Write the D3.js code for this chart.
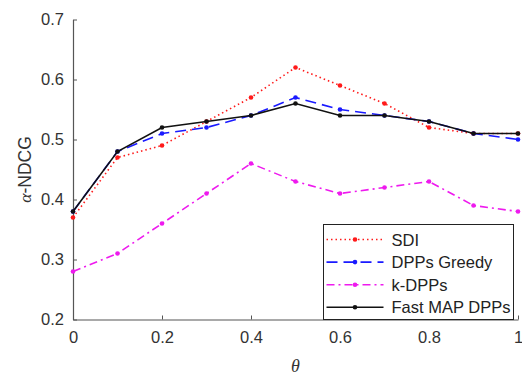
<!DOCTYPE html>
<html>
<head>
<meta charset="utf-8">
<script src="https://cdn.jsdelivr.net/npm/d3@7"></script>
<style>
  html, body { margin: 0; padding: 0; background: #fff; }
  svg { display: block; font-family: "Liberation Sans", Arial, sans-serif; }
</style>
</head>
<body>
<svg id="chart" width="522" height="375"></svg>
<script>
// θ values along the x axis
const theta = [0, 0.1, 0.2, 0.3, 0.4, 0.5, 0.6, 0.7, 0.8, 0.9, 1.0];

// α-NDCG for each method
const sdi        = [0.37, 0.47, 0.49, 0.53, 0.57, 0.62, 0.59, 0.56, 0.52, 0.51, 0.51];
const dppsGreedy = [0.38, 0.48, 0.51, 0.52, 0.54, 0.57, 0.55, 0.54, 0.53, 0.51, 0.50];
const kDpps      = [0.28, 0.31, 0.36, 0.41, 0.46, 0.43, 0.41, 0.42, 0.43, 0.39, 0.38];
const fastMap    = [0.38, 0.48, 0.52, 0.53, 0.54, 0.56, 0.54, 0.54, 0.53, 0.51, 0.51];

const seriesNames = ["SDI", "DPPs Greedy", "k-DPPs", "Fast MAP DPPs"];

const xTicks = [0, 0.2, 0.4, 0.6, 0.8, 1];
const yTicks = [0.2, 0.3, 0.4, 0.5, 0.6, 0.7];

const series = [
  { name: seriesNames[0], values: sdi,        color: "#ff1a1a", dash: "1.5,3" },
  { name: seriesNames[1], values: dppsGreedy, color: "#1a1aff", dash: "11,6" },
  { name: seriesNames[2], values: kDpps,      color: "#ee1aee", dash: "8,4,2,4" },
  { name: seriesNames[3], values: fastMap,    color: "#111111", dash: null }
];

const svg = d3.select("#chart");
const margin = { left: 73, right: 4, top: 19.5, bottom: 55.5 };
const W = 522, H = 375;

const x = d3.scaleLinear().domain([0, 1]).range([margin.left, W - margin.right]);
const y = d3.scaleLinear().domain([0.2, 0.7]).range([H - margin.bottom, margin.top]);

const axisColor = "#555";
const textColor = "#333";
const tickFont = 16.5;

// Bottom axis with inward ticks
const xAxis = svg.append("g")
  .attr("transform", `translate(0,${y(0.2)})`)
  .call(d3.axisBottom(x).tickValues(xTicks).tickFormat(d3.format("~g")).tickSizeInner(-4).tickSizeOuter(0).tickPadding(12));
xAxis.select(".domain").attr("stroke", axisColor).attr("stroke-width", 1.2);
xAxis.selectAll(".tick line").attr("stroke", axisColor);
xAxis.selectAll(".tick text").attr("fill", textColor).attr("font-size", tickFont);

// Left axis with inward ticks
const yAxis = svg.append("g")
  .attr("transform", `translate(${x(0)},0)`)
  .call(d3.axisLeft(y).tickValues(yTicks).tickFormat(d3.format(".1f")).tickSizeInner(-4).tickSizeOuter(0).tickPadding(9));
yAxis.select(".domain").attr("stroke", axisColor).attr("stroke-width", 1.2);
yAxis.selectAll(".tick line").attr("stroke", axisColor);
yAxis.selectAll(".tick text").attr("fill", textColor).attr("font-size", tickFont);

// Axis titles
svg.append("text")
  .attr("x", x(0.5)).attr("y", 372)
  .attr("text-anchor", "middle")
  .attr("font-family", "'Liberation Serif', serif")
  .attr("font-style", "italic")
  .attr("font-size", 18)
  .attr("fill", textColor)
  .text("θ");

const yLabel = svg.append("text")
  .attr("transform", `translate(31,${y(0.45)}) rotate(-90)`)
  .attr("text-anchor", "middle")
  .attr("font-size", 17.5)
  .attr("fill", textColor);
yLabel.append("tspan")
  .attr("font-family", "'Liberation Serif', serif")
  .attr("font-style", "italic")
  .text("α");
yLabel.append("tspan").text("-NDCG");

// Lines and markers
const line = d3.line()
  .x((d, i) => x(theta[i]))
  .y(d => y(d));

series.forEach(s => {
  svg.append("path")
    .datum(s.values)
    .attr("fill", "none")
    .attr("stroke", s.color)
    .attr("stroke-width", 1.6)
    .attr("stroke-dasharray", s.dash)
    .attr("d", line);
  svg.append("g").selectAll("circle")
    .data(s.values)
    .join("circle")
    .attr("cx", (d, i) => x(theta[i]))
    .attr("cy", d => y(d))
    .attr("r", 2.3)
    .attr("fill", s.color);
});

// Legend
const lg = svg.append("g");
const lx = 323.5, ly = 224.5, lw = 190, lh = 95;
lg.append("rect")
  .attr("x", lx).attr("y", ly).attr("width", lw).attr("height", lh)
  .attr("fill", "#fff").attr("stroke", "#222").attr("stroke-width", 1);

series.forEach((s, i) => {
  const ry = ly + 15 + i * 22.6;
  lg.append("line")
    .attr("x1", lx + 3).attr("x2", lx + 60)
    .attr("y1", ry).attr("y2", ry)
    .attr("stroke", s.color)
    .attr("stroke-width", 1.6)
    .attr("stroke-dasharray", s.dash);
  lg.append("circle")
    .attr("cx", lx + 31.5).attr("cy", ry).attr("r", 2.3).attr("fill", s.color);
  lg.append("text")
    .attr("x", lx + 68).attr("y", ry + 6)
    .attr("font-size", 16.5)
    .attr("fill", "#222")
    .text(s.name);
});
</script>
</body>
</html>
